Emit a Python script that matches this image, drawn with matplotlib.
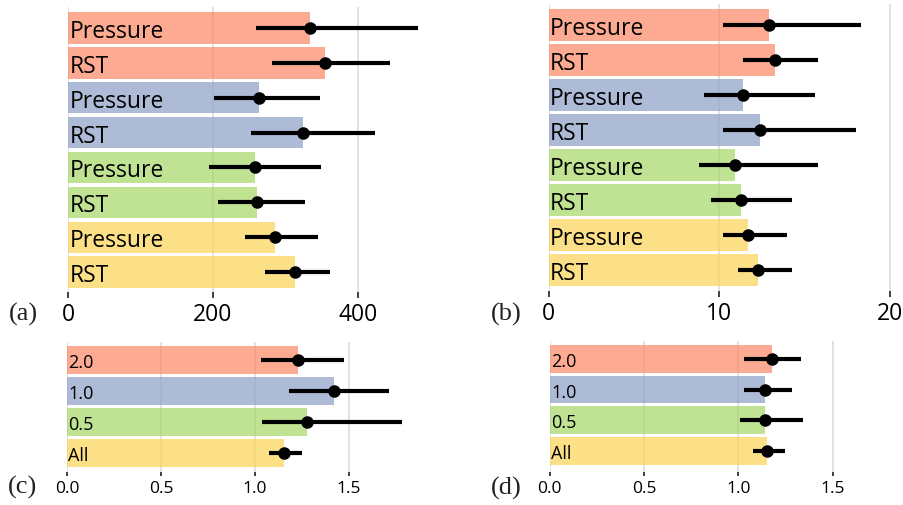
import matplotlib
matplotlib.use("Agg")
import matplotlib.pyplot as plt
import numpy as np

# colours per group (drawn with alpha over the grid)
colors = ['#fb8762', '#8b9fc7', '#a5d666', '#fcd356']

# panels (a) and (b): two methods per group
labels_ab = ['Pressure', 'RST', 'Pressure', 'RST', 'Pressure', 'RST', 'Pressure', 'RST']
groups_ab = [0, 0, 1, 1, 2, 2, 3, 3]

a_mean = [334, 354, 264, 324, 258, 260, 285, 313]
a_lo = [259, 282, 202, 252, 195, 207, 244, 272]
a_hi = [483, 444, 348, 423, 349, 327, 345, 361]

b_mean = [12.9, 13.3, 11.4, 12.4, 10.9, 11.3, 11.7, 12.3]
b_lo = [10.2, 11.4, 9.1, 10.2, 8.8, 9.5, 10.2, 11.1]
b_hi = [18.3, 15.8, 15.6, 18.0, 15.8, 14.3, 14.0, 14.3]

# panels (c) and (d): one bar per group
labels_cd = ['2.0', '1.0', '0.5', 'All']
groups_cd = [0, 1, 2, 3]

c_mean = [1.227, 1.419, 1.275, 1.153]
c_lo = [1.030, 1.181, 1.039, 1.076]
c_hi = [1.472, 1.711, 1.782, 1.248]

d_mean = [1.178, 1.139, 1.141, 1.152]
d_lo = [1.031, 1.028, 1.010, 1.076]
d_hi = [1.330, 1.284, 1.341, 1.246]

W, H = 904, 506
fig = plt.figure(figsize=(W / 100, H / 100), dpi=100)

SANS = 'Open Sans'
SERIF = 'Liberation Serif'


def make_ax(left, right, top, bottom):
    return fig.add_axes([left / W, 1 - bottom / H, (right - left) / W, (bottom - top) / H])


def draw(ax, labels, groups, mean, lo, hi, xlim, ylim, ticks, ticklabels, fs_lab, fs_tick, ticklen):
    y = np.arange(len(labels))
    ax.set_axisbelow(True)
    ax.barh(y, mean, height=0.9, color=[colors[g] for g in groups], alpha=0.7, linewidth=0)
    err = [np.array(mean) - np.array(lo), np.array(hi) - np.array(mean)]
    ax.errorbar(mean, y, xerr=err, fmt='o', color='black', ecolor='black',
                elinewidth=3, markersize=8, capsize=0)
    for yi, lab in zip(y, labels):
        ax.text(xlim[1] * 0.004, yi, lab, ha='left', va='center_baseline',
                fontsize=fs_lab, family=SANS, color='black')
    ax.set_xlim(*xlim)
    ax.set_ylim(*ylim)
    ax.set_xticks(ticks)
    ax.set_xticklabels(ticklabels, fontsize=fs_tick, family=SANS)
    ax.set_yticks([])
    ax.xaxis.grid(True, color='#dddddd', linewidth=1.2)
    for s in ax.spines.values():
        s.set_visible(False)
    ax.tick_params(axis='x', length=ticklen, width=1.3, color='#333333', pad=3, labelcolor='black')


ax_a = make_ax(68, 430.5, 8, 293)
draw(ax_a, labels_ab, groups_ab, a_mean, a_lo, a_hi, (0, 500), (7.57, -0.6),
     [0, 200, 400], ['0', '200', '400'], 16.5, 16.5, 4.5)

ax_b = make_ax(548.7, 898.2, 5, 292)
draw(ax_b, labels_ab, groups_ab, b_mean, b_lo, b_hi, (0, 20.5), (7.604, -0.596),
     [0, 10, 20], ['0', '10', '20'], 16.5, 16.5, 4.5)

ax_c = make_ax(67, 429.8, 343, 473)
draw(ax_c, labels_cd, groups_cd, c_mean, c_lo, c_hi, (0, 1.93), (3.62, -0.58),
     [0, 0.5, 1.0, 1.5], ['0.0', '0.5', '1.0', '1.5'], 13, 12.5, 3)

ax_d = make_ax(549.7, 898.7, 341.7, 473)
draw(ax_d, labels_cd, groups_cd, d_mean, d_lo, d_hi, (0, 1.85), (3.684, -0.593),
     [0, 0.5, 1.0, 1.5], ['0.0', '0.5', '1.0', '1.5'], 13, 12.5, 3)

# panel letters
for txt, x, y in [('(a)', 9, 314), ('(b)', 491, 314), ('(c)', 8, 487), ('(d)', 491, 488)]:
    fig.text(x / W, 1 - y / H, txt, ha='left', va='center', fontsize=19, family=SERIF, color='#222222')

fig.savefig('out.png', dpi=100)
